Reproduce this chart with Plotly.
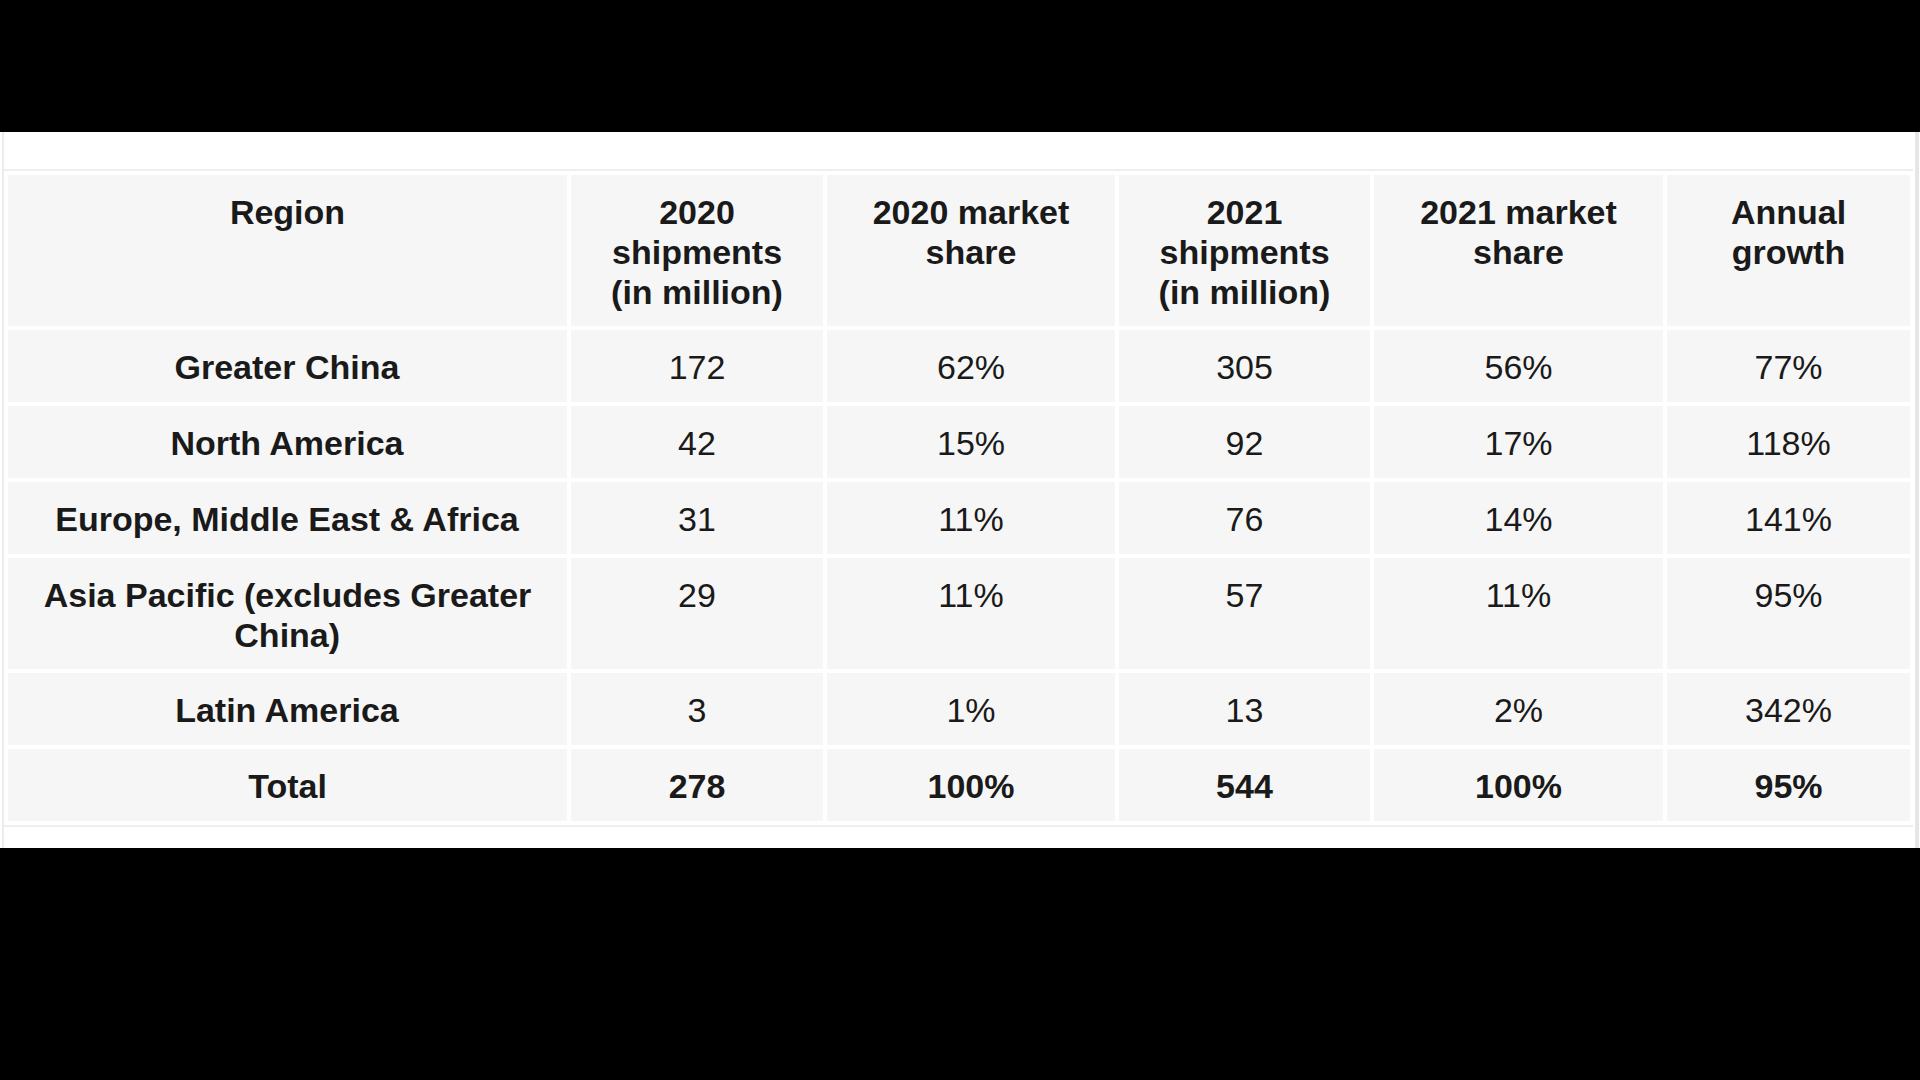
import plotly.graph_objects as go

# ---- data ----
header_labels = [["Region"], ["2020", "shipments", "(in million)"], ["2020 market", "share"],
                 ["2021", "shipments", "(in million)"], ["2021 market", "share"], ["Annual", "growth"]]
regions = [["Greater China"], ["North America"], ["Europe, Middle East & Africa"],
           ["Asia Pacific (excludes Greater", "China)"], ["Latin America"], ["Total"]]
shipments_2020 = [172, 42, 31, 29, 3, 278]
share_2020 = [62, 15, 11, 11, 1, 100]
shipments_2021 = [305, 92, 76, 57, 13, 544]
share_2021 = [56, 17, 14, 11, 2, 100]
annual_growth = [77, 118, 141, 95, 342, 95]

# ---- style ----
W, H = 1920, 1080
FONT = "Liberation Sans, Arial, sans-serif"
TEXT = "#1a1a1a"
FILL = "#f6f6f6"
FS = 34                 # visible text size
BASE = 40 / 1.3         # base size -> 40px line pitch
F0 = 3.6                # tiny first-line spacer (pushes text down)
LAST_SPACER = 74        # descent spacer for wrapped body cells
NB = "\u00a0"

# Liberation Sans Bold advance widths (per 1000 em)
BOLD_W = {" ": 278, "(": 333, ")": 333, "0": 556, "1": 556, "2": 556, "3": 556, "4": 556,
          "5": 556, "6": 556, "7": 556, "8": 556, "9": 556, "%": 889, "&": 722, ",": 278,
          "A": 722, "C": 722, "E": 667, "G": 778, "L": 611, "M": 833, "N": 722, "P": 667,
          "R": 722, "T": 611, "a": 556, "c": 556, "d": 611, "e": 556, "f": 333, "g": 611,
          "h": 611, "i": 278, "k": 556, "l": 278, "m": 889, "n": 611, "o": 611, "p": 611,
          "r": 389, "s": 556, "t": 333, "u": 611, "w": 778, "x": 556, "y": 556}


def text_w(s, size=FS):
    return sum(BOLD_W.get(ch, 556) for ch in s) * size / 1000.0


def nb_span(size, count=1):
    return f"<span style='font-size:{size:.2f}px'>{NB * count}</span>"


def cell_markup(lines, bold, last_spacer=None):
    widths = [text_w(l) for l in lines]
    wmax = max(widths)
    parts = [nb_span(F0)]
    for i, (l, w) in enumerate(zip(lines, widths)):
        pad = (wmax - w) / 2.0
        seg = ""
        if last_spacer and len(lines) > 1 and i == len(lines) - 1:
            seg += nb_span(last_spacer)
            pad -= 0.278 * last_spacer
        unit = 0.278 * FS
        nfull = int(max(pad, 0) // unit)
        rem = max(pad, 0) - nfull * unit
        if nfull:
            seg += nb_span(FS, nfull)
        if rem > 0.2:
            seg += nb_span(rem / 0.278)
        txt = f"<b>{l}</b>" if bold else l
        seg += f"<span style='font-size:{FS}px'>{txt}</span>"
        parts.append(seg)
    return "<br>".join(parts)


is_total = [r == ["Total"] for r in regions]


def column(vals, pct=False):
    return [cell_markup([f"{v}%" if pct else f"{v}"], is_total[i]) for i, v in enumerate(vals)]


cols = [
    [cell_markup(r, True, LAST_SPACER) for r in regions],
    column(shipments_2020),
    column(share_2020, True),
    column(shipments_2021),
    column(share_2021, True),
    column(annual_growth, True),
]
headers = [cell_markup(h, True) for h in header_labels]

fig = go.Figure()
fig.add_trace(go.Table(
    domain=dict(x=[6 / W, 1912 / W], y=[1 - 848 / H, 1 - 173 / H]),
    columnwidth=[563, 256, 292, 255, 293, 247],
    header=dict(
        values=headers,
        fill_color=FILL,
        line=dict(color="white", width=4),
        align="center",
        font=dict(family=FONT, size=BASE, color=TEXT),
        height=155,
    ),
    cells=dict(
        values=cols,
        fill_color=FILL,
        line=dict(color="white", width=4),
        align="center",
        font=dict(family=FONT, size=BASE, color=TEXT),
        height=76,
    ),
))

shapes = [
    dict(type="rect", xref="paper", yref="paper", x0=0, x1=1,
         y0=1 - 848 / H, y1=1 - 132 / H, fillcolor="white", line=dict(width=0), layer="below"),
    dict(type="line", xref="paper", yref="paper", x0=3 / W, x1=3 / W,
         y0=1 - 848 / H, y1=1 - 132 / H, line=dict(color="#ececec", width=2), layer="below"),
    dict(type="line", xref="paper", yref="paper", x0=1917 / W, x1=1917 / W,
         y0=1 - 848 / H, y1=1 - 132 / H, line=dict(color="#e6e6e6", width=4), layer="below"),
    dict(type="line", xref="paper", yref="paper", x0=4 / W, x1=1913 / W,
         y0=1 - 170 / H, y1=1 - 170 / H, line=dict(color="#efefef", width=2), layer="below"),
    dict(type="line", xref="paper", yref="paper", x0=4 / W, x1=1913 / W,
         y0=1 - 826 / H, y1=1 - 826 / H, line=dict(color="#efefef", width=2), layer="below"),
]

fig.update_layout(
    width=W, height=H,
    margin=dict(l=0, r=0, t=0, b=0),
    paper_bgcolor="black",
    plot_bgcolor="black",
    shapes=shapes,
)

fig.write_html(
    "out.html",
    config={"displayModeBar": False},
    post_script="document.body.style.margin='0';document.body.style.background='#000';"
                "document.body.style.overflow='hidden';",
)
